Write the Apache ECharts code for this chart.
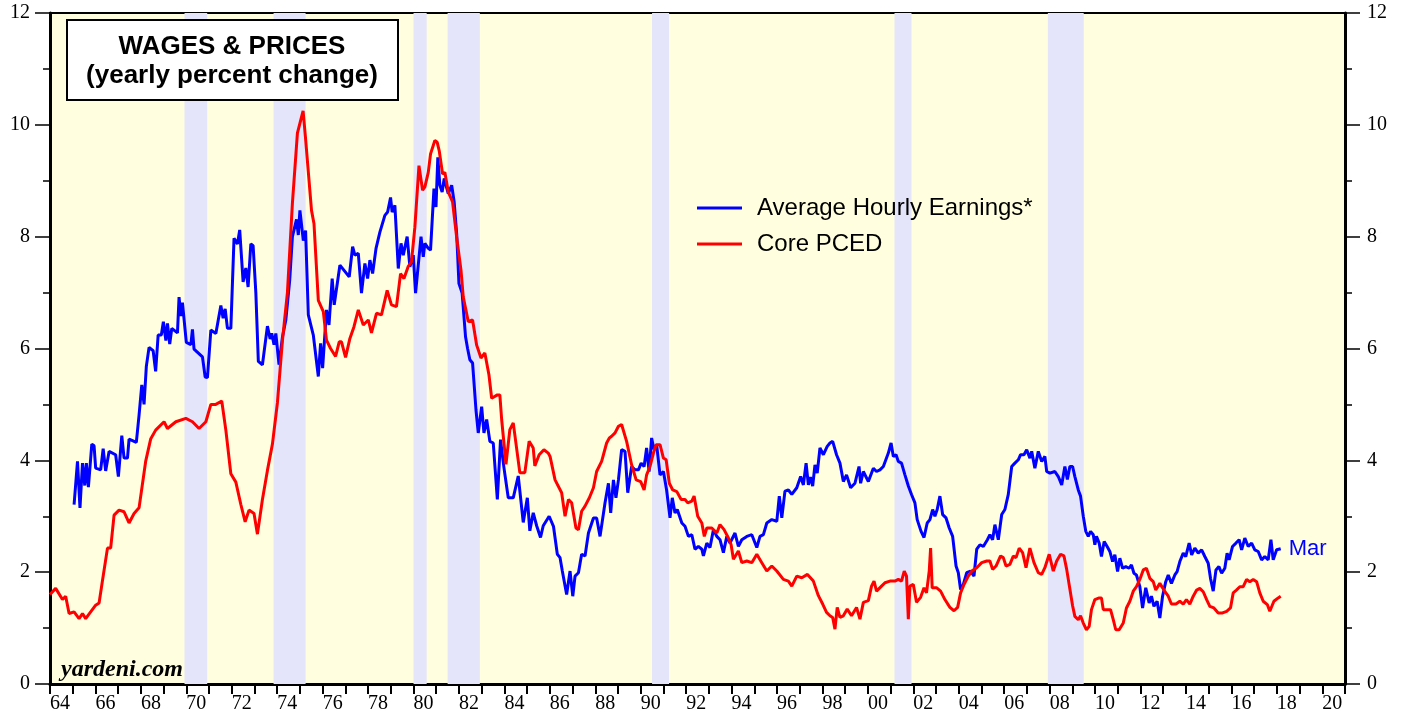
<!DOCTYPE html>
<html style="height: 100%">
<head>
    <meta charset="utf-8">
</head>
<body style="height: 100%; margin: 0">
    <div id="container" style="width: 1405px; height: 719px"></div>
    <script type="text/javascript" src="https://cdn.jsdelivr.net/npm/echarts@6/dist/echarts.min.js"></script>
    <script type="text/javascript">
        // yearly % change, [decimal year, value]
        var wagePoints = [
            [1965.06,3.21],[1965.21,3.98],[1965.32,3.15],[1965.43,3.95],[1965.53,3.55],[1965.60,3.95],[1965.69,3.52],[1965.84,4.29],[1965.94,4.26],[1966.01,3.86],
            [1966.23,3.83],[1966.34,4.21],[1966.45,3.81],[1966.60,4.16],[1966.89,4.10],[1967.01,3.71],[1967.16,4.44],[1967.26,4.04],[1967.41,4.04],[1967.48,4.38],
            [1967.80,4.32],[1967.92,4.81],[1968.04,5.35],[1968.14,5.00],[1968.24,5.68],[1968.36,6.02],[1968.54,5.96],[1968.65,5.59],[1968.76,6.24],[1968.90,6.24],
            [1968.99,6.48],[1969.10,6.14],[1969.17,6.45],[1969.27,6.08],[1969.36,6.36],[1969.61,6.28],[1969.68,6.92],[1969.76,6.58],[1969.83,6.82],[1970.00,6.11],
            [1970.20,6.07],[1970.27,6.34],[1970.34,5.99],[1970.71,5.85],[1970.83,5.49],[1970.93,5.48],[1971.08,6.33],[1971.30,6.27],[1971.52,6.77],[1971.62,6.54],
            [1971.71,6.71],[1971.81,6.36],[1971.96,6.36],[1972.10,7.97],[1972.25,7.87],[1972.35,8.12],[1972.50,7.19],[1972.62,7.44],[1972.72,7.10],[1972.84,7.87],
            [1972.94,7.84],[1973.06,7.00],[1973.17,5.77],[1973.35,5.71],[1973.57,6.40],[1973.69,6.17],[1973.76,6.27],[1973.86,6.07],[1973.94,6.27],[1974.08,5.71],
            [1974.23,6.20],[1974.38,6.51],[1974.55,7.22],[1974.67,8.00],[1974.85,8.31],[1974.93,8.03],[1975.00,8.47],[1975.15,7.93],[1975.25,8.11],[1975.37,6.60],
            [1975.59,6.24],[1975.81,5.50],[1975.91,6.09],[1976.00,5.65],[1976.17,6.69],[1976.28,6.42],[1976.42,7.25],[1976.51,6.78],[1976.76,7.49],[1977.17,7.28],
            [1977.32,7.82],[1977.42,7.67],[1977.57,7.70],[1977.71,6.99],[1977.86,7.52],[1977.98,7.25],[1978.08,7.58],[1978.20,7.34],[1978.35,7.79],[1978.52,8.08],
            [1978.74,8.38],[1978.86,8.44],[1978.99,8.70],[1979.06,8.44],[1979.18,8.56],[1979.33,7.43],[1979.45,7.88],[1979.55,7.67],[1979.72,8.00],[1979.84,7.46],
            [1979.99,7.67],[1980.09,6.99],[1980.33,8.00],[1980.43,7.64],[1980.50,7.88],[1980.65,7.79],[1980.75,7.76],[1980.90,8.86],[1980.99,8.53],[1981.07,9.42],
            [1981.16,8.92],[1981.26,8.80],[1981.35,9.04],[1981.53,8.77],[1981.68,8.92],[1981.79,8.62],[1981.90,8.05],[1982.00,7.16],[1982.14,6.99],[1982.29,6.21],
            [1982.38,6.00],[1982.48,5.80],[1982.60,5.74],[1982.75,4.90],[1982.85,4.49],[1983.00,4.96],[1983.10,4.49],[1983.22,4.73],[1983.36,4.34],[1983.51,4.31],
            [1983.69,3.30],[1983.83,4.37],[1983.98,3.87],[1984.17,3.33],[1984.39,3.33],[1984.61,3.72],[1984.83,2.89],[1985.01,3.33],[1985.12,2.74],[1985.27,3.06],
            [1985.42,2.83],[1985.59,2.62],[1985.71,2.83],[1985.97,3.00],[1986.16,2.82],[1986.33,2.32],[1986.45,2.26],[1986.55,2.02],[1986.63,2.02],[1986.74,1.60],
            [1986.89,2.02],[1987.01,1.57],[1987.11,1.93],[1987.26,1.99],[1987.40,2.32],[1987.55,2.29],[1987.70,2.70],[1987.92,2.97],[1988.06,2.97],[1988.21,2.64],
            [1988.43,3.24],[1988.58,3.59],[1988.68,3.06],[1988.80,3.65],[1988.91,3.33],[1989.02,3.65],[1989.16,4.19],[1989.31,4.16],[1989.43,3.42],[1989.60,3.89],
            [1989.75,3.83],[1989.90,3.83],[1990.02,3.95],[1990.15,3.89],[1990.26,4.22],[1990.37,3.80],[1990.48,4.40],[1990.59,4.19],[1990.70,4.28],[1990.85,3.74],
            [1991.00,3.80],[1991.14,3.47],[1991.29,2.97],[1991.39,3.33],[1991.51,3.06],[1991.61,3.12],[1991.81,2.88],[1991.95,2.82],[1992.10,2.64],[1992.25,2.67],
            [1992.39,2.41],[1992.54,2.46],[1992.69,2.41],[1992.76,2.29],[1992.91,2.52],[1993.05,2.44],[1993.20,2.76],[1993.35,2.64],[1993.49,2.58],[1993.64,2.35],
            [1993.79,2.64],[1993.93,2.52],[1994.15,2.70],[1994.30,2.46],[1994.45,2.58],[1994.67,2.64],[1994.89,2.67],[1995.11,2.44],[1995.25,2.64],[1995.40,2.67],
            [1995.55,2.88],[1995.77,2.94],[1995.99,2.91],[1996.10,3.36],[1996.21,2.97],[1996.35,3.45],[1996.50,3.47],[1996.65,3.39],[1996.87,3.51],[1997.04,3.71],
            [1997.16,3.56],[1997.28,3.95],[1997.38,3.56],[1997.47,3.70],[1997.57,3.54],[1997.67,3.92],[1997.77,3.77],[1997.89,4.22],[1998.04,4.10],[1998.21,4.25],
            [1998.33,4.31],[1998.45,4.34],[1998.62,4.10],[1998.77,3.95],[1998.92,3.62],[1999.06,3.74],[1999.24,3.51],[1999.43,3.59],[1999.61,3.89],[1999.68,3.59],
            [1999.80,3.80],[2000.02,3.62],[2000.24,3.86],[2000.38,3.80],[2000.53,3.83],[2000.68,3.89],[2000.90,4.13],[2001.02,4.31],[2001.12,4.07],[2001.24,4.10],
            [2001.34,3.98],[2001.48,3.95],[2001.63,3.74],[2001.78,3.54],[2001.92,3.39],[2002.07,3.24],[2002.17,2.94],[2002.34,2.73],[2002.47,2.62],[2002.61,2.88],
            [2002.73,2.94],[2002.85,3.12],[2002.95,3.00],[2003.05,3.12],[2003.17,3.36],[2003.29,3.03],[2003.44,2.97],[2003.58,2.79],[2003.73,2.64],[2003.88,2.11],
            [2003.98,1.99],[2004.08,1.69],[2004.20,1.78],[2004.35,1.99],[2004.52,2.02],[2004.67,1.93],[2004.79,2.41],[2004.93,2.49],[2005.08,2.46],[2005.26,2.58],
            [2005.37,2.67],[2005.49,2.58],[2005.59,2.85],[2005.74,2.58],[2005.89,3.03],[2006.03,3.12],[2006.18,3.39],[2006.33,3.89],[2006.47,3.95],[2006.62,4.01],
            [2006.72,4.10],[2006.87,4.10],[2006.99,4.19],[2007.13,4.04],[2007.21,4.16],[2007.35,3.86],[2007.50,4.16],[2007.65,3.98],[2007.79,4.07],[2007.87,3.80],
            [2008.01,3.77],[2008.23,3.80],[2008.38,3.71],[2008.53,3.56],[2008.67,3.89],[2008.78,3.66],[2008.89,3.89],[2009.01,3.89],[2009.11,3.71],[2009.26,3.47],
            [2009.36,3.36],[2009.48,3.00],[2009.59,2.73],[2009.70,2.64],[2009.80,2.73],[2009.92,2.67],[2009.99,2.49],[2010.06,2.64],[2010.18,2.52],[2010.28,2.28],
            [2010.40,2.55],[2010.53,2.46],[2010.65,2.37],[2010.77,2.19],[2010.87,2.31],[2010.99,2.01],[2011.09,2.25],[2011.21,2.07],[2011.35,2.10],[2011.50,2.07],
            [2011.60,2.13],[2011.71,1.98],[2011.82,1.95],[2011.97,1.74],[2012.09,1.36],[2012.23,1.72],[2012.38,1.45],[2012.48,1.57],[2012.59,1.39],[2012.73,1.48],
            [2012.85,1.18],[2012.97,1.57],[2013.11,1.83],[2013.22,1.95],[2013.36,1.80],[2013.51,1.95],[2013.61,2.01],[2013.73,2.19],[2013.88,2.34],[2013.99,2.28],
            [2014.14,2.52],[2014.25,2.31],[2014.39,2.43],[2014.54,2.34],[2014.69,2.40],[2014.83,2.28],[2014.98,2.16],[2015.08,1.89],[2015.20,1.66],[2015.32,2.04],
            [2015.45,2.10],[2015.57,1.98],[2015.71,2.07],[2015.81,2.34],[2015.90,2.22],[2016.05,2.46],[2016.20,2.52],[2016.34,2.58],[2016.45,2.40],[2016.59,2.61],
            [2016.74,2.46],[2016.89,2.52],[2017.03,2.40],[2017.18,2.37],[2017.33,2.22],[2017.47,2.28],[2017.62,2.22],[2017.74,2.58],[2017.84,2.22],[2017.99,2.40],
            [2018.06,2.43],[2018.17,2.42]
        ];

        var pcePoints = [
            [1964.00,1.60],[1964.25,1.71],[1964.55,1.51],[1964.69,1.57],[1964.84,1.26],[1965.06,1.29],[1965.28,1.17],[1965.43,1.26],[1965.57,1.17],[1965.79,1.29],
            [1966.01,1.41],[1966.16,1.45],[1966.31,1.85],[1966.53,2.43],[1966.67,2.43],[1966.82,3.02],[1967.04,3.11],[1967.26,3.08],[1967.48,2.88],[1967.70,3.05],
            [1967.92,3.15],[1967.99,3.18],[1968.21,3.98],[1968.43,4.38],[1968.65,4.54],[1969.02,4.69],[1969.17,4.57],[1969.54,4.69],[1969.98,4.75],[1970.27,4.69],
            [1970.56,4.57],[1970.86,4.69],[1971.08,5.00],[1971.30,5.00],[1971.56,5.06],[1971.74,4.54],[1971.96,3.76],[1972.18,3.61],[1972.40,3.21],[1972.59,2.90],
            [1972.76,3.11],[1972.98,3.05],[1973.13,2.68],[1973.35,3.30],[1973.57,3.82],[1973.79,4.29],[1974.01,5.03],[1974.23,6.14],[1974.45,7.00],[1974.67,8.60],
            [1974.89,9.85],[1975.14,10.25],[1975.25,9.75],[1975.51,8.47],[1975.62,8.23],[1975.81,6.86],[1976.03,6.66],[1976.17,6.15],[1976.35,6.00],[1976.57,5.86],
            [1976.73,6.12],[1976.83,6.12],[1977.01,5.84],[1977.20,6.18],[1977.38,6.39],[1977.57,6.69],[1977.79,6.42],[1978.01,6.51],[1978.15,6.28],[1978.37,6.63],
            [1978.59,6.60],[1978.84,7.04],[1979.03,6.78],[1979.25,6.75],[1979.43,7.34],[1979.58,7.25],[1979.77,7.47],[1979.91,7.55],[1980.06,8.17],[1980.24,9.27],
            [1980.40,8.83],[1980.50,8.89],[1980.65,9.15],[1980.75,9.48],[1980.94,9.72],[1981.04,9.69],[1981.13,9.54],[1981.28,9.12],[1981.38,9.15],[1981.53,8.80],
            [1981.72,8.62],[1981.90,7.99],[1982.09,7.40],[1982.19,6.92],[1982.41,6.48],[1982.60,6.51],[1982.78,6.06],[1982.97,5.83],[1983.14,5.92],[1983.32,5.53],
            [1983.44,5.11],[1983.69,5.17],[1983.80,5.17],[1983.88,4.73],[1984.07,3.93],[1984.24,4.55],[1984.39,4.67],[1984.68,3.78],[1984.90,3.78],[1985.09,4.34],
            [1985.27,4.22],[1985.34,3.90],[1985.53,4.10],[1985.74,4.19],[1985.93,4.13],[1986.01,4.07],[1986.23,3.65],[1986.52,3.42],[1986.67,3.00],[1986.82,3.30],
            [1986.96,3.24],[1987.15,2.79],[1987.26,2.76],[1987.40,3.09],[1987.55,3.18],[1987.74,3.33],[1987.92,3.51],[1988.06,3.80],[1988.28,3.98],[1988.50,4.31],
            [1988.62,4.40],[1988.72,4.43],[1988.87,4.49],[1989.02,4.61],[1989.16,4.64],[1989.38,4.34],[1989.60,3.92],[1989.80,3.65],[1990.00,3.62],[1990.15,3.47],
            [1990.26,3.74],[1990.41,3.89],[1990.56,4.13],[1990.68,4.28],[1990.85,4.28],[1991.00,4.04],[1991.12,4.01],[1991.26,3.59],[1991.41,3.47],[1991.59,3.44],
            [1991.78,3.30],[1991.95,3.30],[1992.07,3.24],[1992.25,3.27],[1992.35,3.36],[1992.51,3.00],[1992.69,2.88],[1992.80,2.64],[1992.91,2.79],[1993.13,2.79],
            [1993.35,2.70],[1993.49,2.85],[1993.67,2.76],[1993.86,2.61],[1993.98,2.49],[1994.08,2.23],[1994.30,2.38],[1994.45,2.17],[1994.67,2.20],[1994.89,2.17],
            [1995.11,2.32],[1995.33,2.17],[1995.55,2.02],[1995.77,2.11],[1995.99,2.02],[1996.28,1.87],[1996.50,1.84],[1996.65,1.75],[1996.87,1.93],[1997.09,1.90],
            [1997.34,1.96],[1997.60,1.84],[1997.82,1.58],[1998.01,1.43],[1998.18,1.28],[1998.33,1.22],[1998.45,1.19],[1998.55,0.98],[1998.65,1.37],[1998.77,1.19],
            [1998.92,1.22],[1999.09,1.34],[1999.28,1.22],[1999.50,1.37],[1999.65,1.16],[1999.80,1.46],[2000.02,1.49],[2000.16,1.75],[2000.27,1.84],[2000.38,1.66],
            [2000.60,1.75],[2000.75,1.81],[2000.97,1.84],[2001.19,1.84],[2001.34,1.87],[2001.48,1.84],[2001.60,2.02],[2001.70,1.93],[2001.78,1.16],[2001.85,1.75],
            [2002.00,1.78],[2002.14,1.46],[2002.32,1.55],[2002.47,1.72],[2002.58,1.63],[2002.70,2.02],[2002.76,2.43],[2002.83,1.72],[2003.03,1.72],[2003.20,1.66],
            [2003.39,1.51],[2003.61,1.37],[2003.79,1.31],[2003.95,1.37],[2004.08,1.63],[2004.23,1.78],[2004.42,1.93],[2004.57,2.02],[2004.79,2.08],[2005.01,2.17],
            [2005.23,2.20],[2005.37,2.20],[2005.49,2.05],[2005.64,2.11],[2005.84,2.29],[2005.96,2.26],[2006.08,2.11],[2006.25,2.14],[2006.40,2.29],[2006.52,2.26],
            [2006.66,2.43],[2006.81,2.35],[2006.96,2.08],[2007.13,2.43],[2007.31,2.17],[2007.50,1.99],[2007.65,1.96],[2007.79,2.08],[2007.98,2.32],[2008.16,2.02],
            [2008.31,2.20],[2008.48,2.32],[2008.63,2.29],[2008.75,2.05],[2008.89,1.70],[2009.01,1.40],[2009.11,1.21],[2009.26,1.15],[2009.36,1.22],[2009.48,1.09],
            [2009.62,0.97],[2009.74,1.03],[2009.84,1.33],[2009.99,1.51],[2010.18,1.54],[2010.28,1.54],[2010.36,1.33],[2010.53,1.33],[2010.68,1.33],[2010.80,1.15],
            [2010.91,0.97],[2011.06,0.97],[2011.24,1.09],[2011.38,1.36],[2011.53,1.48],[2011.68,1.66],[2011.82,1.74],[2011.97,1.87],[2012.12,2.04],[2012.26,2.07],
            [2012.41,1.89],[2012.56,1.83],[2012.67,1.68],[2012.85,1.80],[2013.03,1.68],[2013.22,1.57],[2013.36,1.43],[2013.56,1.43],[2013.73,1.48],[2013.88,1.43],
            [2014.02,1.51],[2014.17,1.43],[2014.32,1.57],[2014.47,1.68],[2014.61,1.71],[2014.76,1.65],[2014.91,1.51],[2015.05,1.39],[2015.23,1.36],[2015.42,1.27],
            [2015.61,1.27],[2015.79,1.30],[2015.96,1.36],[2016.08,1.63],[2016.22,1.68],[2016.37,1.74],[2016.52,1.74],[2016.67,1.87],[2016.81,1.83],[2016.96,1.87],
            [2017.11,1.83],[2017.25,1.63],[2017.40,1.48],[2017.58,1.42],[2017.69,1.30],[2017.87,1.48],[2018.06,1.54],[2018.17,1.57]
        ];

        // recessions (shaded), start / end as decimal years
        var recessionStarts = [1969.92, 1973.84, 1980.00, 1981.50, 1990.50, 2001.17, 2007.92];
        var recessionEnds   = [1970.92, 1975.25, 1980.58, 1982.92, 1991.25, 2001.92, 2009.50];

        var seriesNames = ['Average Hourly Earnings*', 'Core PCED'];
        var lastMonth = 'Mar';

        var dom = document.getElementById("container");
        var myChart = echarts.init(dom);

        var recessionAreas = [];
        for (var i = 0; i < recessionStarts.length; i++) {
            recessionAreas.push([{ xAxis: recessionStarts[i] }, { xAxis: recessionEnds[i] }]);
        }

        var serif = '"Liberation Serif", "Times New Roman", serif';
        var sans = '"Liberation Sans", Arial, sans-serif';

        var yAxisBase = function (pos) {
            return {
                type: 'value',
                position: pos,
                min: 0,
                max: 12,
                interval: 2,
                axisLine: { show: true, lineStyle: { color: '#000', width: 3 } },
                axisTick: { show: true, length: 15, lineStyle: { color: '#000', width: 1.5 } },
                minorTick: { show: true, splitNumber: 2, length: 7, lineStyle: { color: '#000', width: 1.5 } },
                axisLabel: { color: '#000', fontFamily: serif, fontSize: 20, margin: pos === 'left' ? 20 : 22 },
                splitLine: { show: false }
            };
        };

        var option = {
            animation: false,
            backgroundColor: '#fff',
            grid: {
                left: 50, right: 60, top: 13, bottom: 35,
                show: true,
                backgroundColor: '#ffffe0',
                borderColor: '#000',
                borderWidth: 2
            },
            legend: {
                left: 697,
                top: 196,
                padding: 0,
                orient: 'vertical',
                icon: 'rect',
                itemWidth: 45,
                itemHeight: 3,
                itemGap: 12,
                selectedMode: false,
                textStyle: { color: '#000', fontFamily: sans, fontSize: 24, padding: [0, 0, 0, 10] },
                data: seriesNames
            },
            xAxis: {
                type: 'value',
                min: 1964,
                max: 2021,
                interval: 1,
                axisLine: { lineStyle: { color: '#000', width: 3 } },
                axisTick: { length: 10, lineStyle: { color: '#000', width: 2 } },
                axisLabel: {
                    color: '#000',
                    fontFamily: serif,
                    fontSize: 20,
                    align: 'left',
                    margin: 10,
                    formatter: function (v) {
                        if (v % 2 !== 0 || v >= 2021) return '';
                        var s = String(v % 100);
                        return s.length < 2 ? '0' + s : s;
                    }
                },
                splitLine: { show: false }
            },
            yAxis: [yAxisBase('left'), yAxisBase('right')],
            graphic: [
                {
                    type: 'rect',
                    shape: { x: 67, y: 20, width: 331, height: 80 },
                    style: { fill: '#fff', stroke: '#000', lineWidth: 2 },
                    z: 10
                },
                {
                    type: 'text', x: 232, y: 47, z: 11,
                    style: { text: 'WAGES & PRICES', fill: '#000', font: 'bold 26px ' + sans, textAlign: 'center', textVerticalAlign: 'middle' }
                },
                {
                    type: 'text', x: 232, y: 76, z: 11,
                    style: { text: '(yearly percent change)', fill: '#000', font: 'bold 26px ' + sans, textAlign: 'center', textVerticalAlign: 'middle' }
                },
                {
                    type: 'text', x: 61, y: 670, z: 11,
                    style: { text: 'yardeni.com', fill: '#000', font: 'italic bold 24px ' + serif, textAlign: 'left', textVerticalAlign: 'middle' }
                }
            ],
            series: [
                {
                    name: 'recessions',
                    type: 'line',
                    data: [],
                    z: 1,
                    silent: true,
                    markArea: {
                        silent: true,
                        itemStyle: { color: '#e4e4fa' },
                        data: recessionAreas
                    }
                },
                {
                    name: seriesNames[0],
                    type: 'line',
                    data: wagePoints,
                    showSymbol: false,
                    z: 3,
                    color: '#0000ff',
                    lineStyle: { color: '#0000ff', width: 3 },
                    endLabel: {
                        show: true,
                        formatter: lastMonth,
                        color: '#0000ff',
                        fontFamily: sans,
                        fontSize: 22,
                        distance: 8
                    }
                },
                {
                    name: seriesNames[1],
                    type: 'line',
                    data: pcePoints,
                    showSymbol: false,
                    z: 3,
                    color: '#ff0000',
                    lineStyle: { color: '#ff0000', width: 3 }
                }
            ]
        };

        if (option && typeof option === "object") {
            myChart.setOption(option, true);
        }
    </script>
</body>
</html>
